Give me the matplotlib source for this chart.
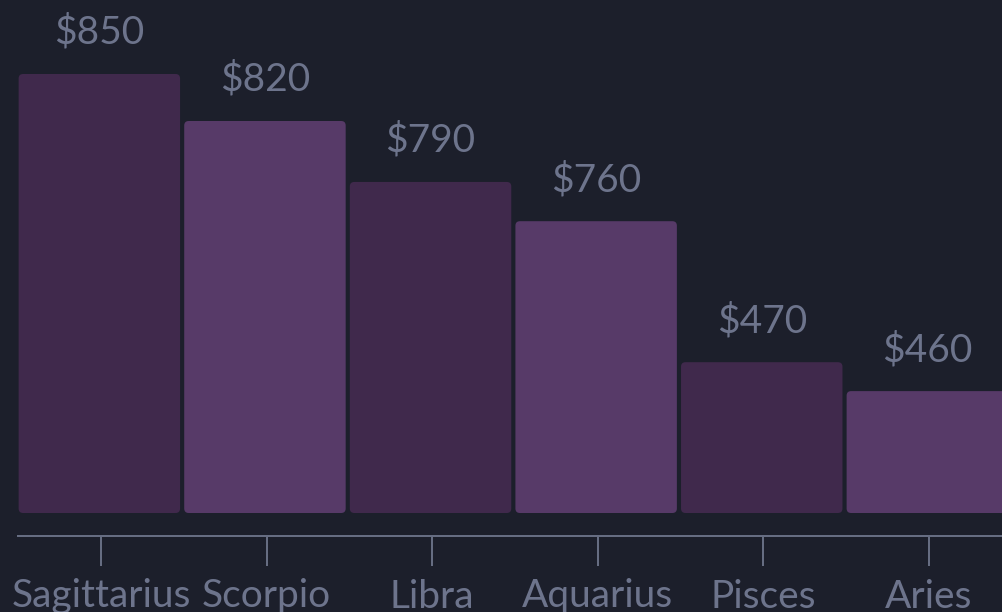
import matplotlib
matplotlib.use("Agg")
import matplotlib.pyplot as plt
from matplotlib.patches import FancyBboxPatch

# ---- data ----
signs = ["Sagittarius", "Scorpio", "Libra", "Aquarius", "Pisces", "Aries"]
value_labels = [850, 820, 790, 760, 470, 460]          # printed values ($)
bar_heights = [850, 759, 641, 565, 292, 236]           # rendered bar heights (as drawn)

# ---- style ----
BG = "#1c1f2b"
BAR_COLORS = ["#40294c", "#573a68"]
TEXT = "#6d748c"
AXIS = "#666d82"
FONT = ["Lato", "DejaVu Sans"]

W, H, DPI = 1003, 612, 100
fig = plt.figure(figsize=(W / DPI, H / DPI), dpi=DPI, facecolor=BG)

step_px = 165.6
left_px = 18.2
base_px = 513
px_per_unit = 439 / 850.0
ymax = base_px / px_per_unit

ax = fig.add_axes([left_px / W, (H - base_px) / H, 6 * step_px / W, base_px / H])
ax.set_facecolor(BG)
ax.patch.set_alpha(0)
ax.set_xlim(-0.5, 5.5)
ax.set_ylim(0, ymax)

x = list(range(len(signs)))
bars = ax.bar(x, bar_heights, width=0.975,
              color=[BAR_COLORS[i % 2] for i in x], linewidth=0)

# replace with rounded rectangles
r_px = 4.5
aspect = (1 / px_per_unit) / (1 / step_px)
for b in bars:
    b.set_visible(False)
    fb = FancyBboxPatch((b.get_x() - 0.01, b.get_y()), b.get_width(), b.get_height(),
                        boxstyle=f"round,pad=0,rounding_size={r_px / step_px}",
                        mutation_aspect=aspect,
                        facecolor=b.get_facecolor(), linewidth=0)
    ax.add_patch(fb)

for xi, h, v in zip(x, bar_heights, value_labels):
    ax.annotate(f"${v}", (xi - 0.01, h), xytext=(0, 30 * 0.72), textcoords="offset points",
                ha="center", va="baseline", color=TEXT, fontsize=28,
                family=FONT, fontweight="normal")

for s in ["top", "right", "left"]:
    ax.spines[s].set_visible(False)
ax.spines["bottom"].set_position(("outward", 23 * 0.72))
ax.spines["bottom"].set_color(AXIS)
ax.spines["bottom"].set_linewidth(2 * 0.72)
ax.set_yticks([])
ax.set_xticks(x)
ax.set_xticklabels(signs, family=FONT, fontweight="normal", fontsize=28, color=TEXT)
ax.tick_params(axis="x", length=30 * 0.72, width=2 * 0.72, color=AXIS, pad=9)

fig.savefig("out.png", dpi=DPI, facecolor=BG)
